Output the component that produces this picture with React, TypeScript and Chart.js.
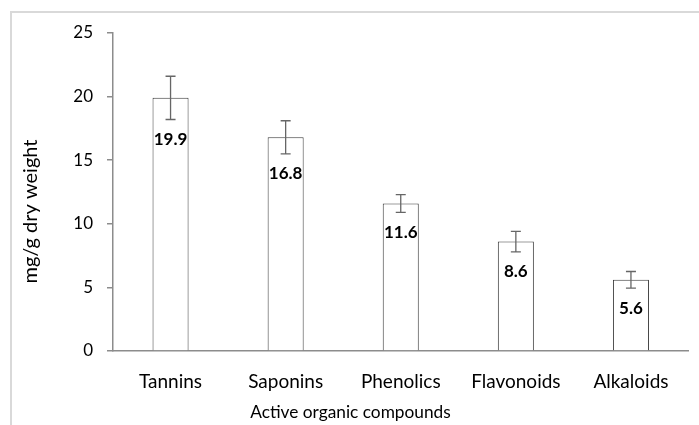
import React, { useEffect, useRef } from "react";
import { Chart, registerables } from "chart.js";

Chart.register(...registerables);

const categories = ["Tannins", "Saponins", "Phenolics", "Flavonoids", "Alkaloids"];
const values = [19.9, 16.8, 11.6, 8.6, 5.6];
const errors = [1.7, 1.3, 0.7, 0.8, 0.65];
const valueLabels = ["19.9", "16.8", "11.6", "8.6", "5.6"];
const yTitle = "mg/g dry weight";
const xTitle = "Active organic compounds";

const FONT = "Lato, 'Open Sans', sans-serif";

const errorPlugin = {
  id: "errorBarsAndLabels",
  afterDatasetsDraw(chart: any) {
    const ctx = chart.ctx;
    const meta = chart.getDatasetMeta(0);
    const y = chart.scales.y;
    ctx.save();
    meta.data.forEach((bar: any, i: number) => {
      const x = bar.x;
      const top = y.getPixelForValue(values[i] + errors[i]);
      const bot = y.getPixelForValue(values[i] - errors[i]);
      ctx.strokeStyle = "#666666";
      ctx.lineWidth = 1.3;
      ctx.beginPath();
      ctx.moveTo(x, top);
      ctx.lineTo(x, bot);
      ctx.moveTo(x - 5, top);
      ctx.lineTo(x + 5, top);
      ctx.moveTo(x - 5, bot);
      ctx.lineTo(x + 5, bot);
      ctx.stroke();
      ctx.fillStyle = "#000000";
      ctx.font = "bold 17px " + FONT;
      ctx.textAlign = "center";
      ctx.textBaseline = "middle";
      ctx.fillText(valueLabels[i], x, bot + 20);
    });
    ctx.restore();
  },
  afterDraw(chart: any) {
    const ctx = chart.ctx;
    ctx.save();
    ctx.fillStyle = "#000000";
    ctx.textAlign = "center";
    ctx.textBaseline = "middle";
    ctx.font = "17.3px " + FONT;
    ctx.fillText(xTitle, chart.width / 2 + 1, 412);
    ctx.translate(31, chart.height / 2 - 1);
    ctx.rotate(-Math.PI / 2);
    ctx.font = "20px " + FONT;
    ctx.fillText(yTitle, 0, 0);
    ctx.restore();
  },
};

export default function App() {
  const ref = useRef<HTMLCanvasElement>(null);
  useEffect(() => {
    if (!ref.current) return;
    const chart = new Chart(ref.current, {
      type: "bar",
      data: {
        labels: categories,
        datasets: [
          {
            data: values,
            backgroundColor: "#ffffff",
            borderColor: "#3a3a3a",
            borderWidth: 1,
            categoryPercentage: 1,
            barPercentage: 0.313,
          },
        ],
      },
      options: {
        animation: false,
        responsive: false,
        maintainAspectRatio: false,
        layout: { padding: { top: 33, right: 10.5, left: 0, bottom: 0 } },
        plugins: { legend: { display: false }, tooltip: { enabled: false } },
        scales: {
          x: {
            grid: { display: false, drawTicks: false },
            border: { display: true, color: "#8c8c8c", width: 1.5 },
            ticks: { color: "#000", font: { family: FONT, size: 19 }, padding: 19 },
            afterFit: (s: any) => {
              s.height = 74;
            },
          },
          y: {
            min: 0,
            max: 25,
            ticks: { stepSize: 5, color: "#000", font: { family: FONT, size: 17 }, padding: 14 },
            grid: { drawOnChartArea: false, drawTicks: true, tickLength: 6, color: "#8c8c8c", lineWidth: 1.5 },
            border: { display: true, color: "#8c8c8c", width: 1.5 },
            afterFit: (s: any) => {
              s.width = 113;
            },
          },
        },
      },
      plugins: [errorPlugin],
    });
    return () => chart.destroy();
  }, []);
  return (
    <div style={{ position: "fixed", left: 0, top: 0, width: 699, height: 425, background: "#fff" }}>
      <div
        style={{
          position: "absolute",
          left: 10,
          top: 11,
          width: 700,
          height: 420,
          borderLeft: "2px solid #d9d9d9",
          borderTop: "2px solid #d9d9d9",
        }}
      />
      <canvas ref={ref} width={699} height={425} style={{ position: "absolute", left: 0, top: 0 }} />
    </div>
  );
}
